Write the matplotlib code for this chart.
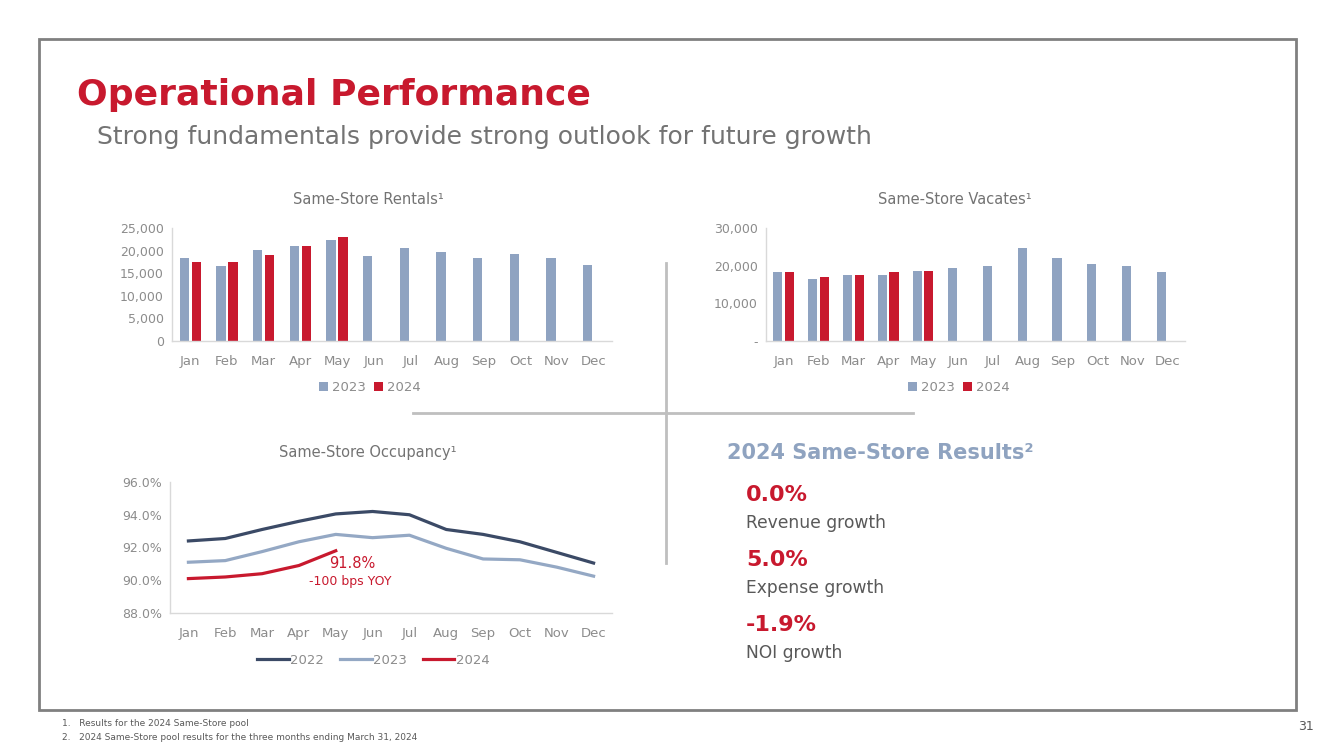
import matplotlib
matplotlib.use("Agg")
import matplotlib.pyplot as plt
from matplotlib.lines import Line2D
from matplotlib.patches import Rectangle
import numpy as np

months = ["Jan", "Feb", "Mar", "Apr", "May", "Jun", "Jul", "Aug", "Sep", "Oct", "Nov", "Dec"]

# Same-store rentals
rentals_2023 = [18400, 16700, 20200, 20950, 22300, 18900, 20500, 19800, 18300, 19200, 18300, 16900]
rentals_2024 = [17400, 17400, 19000, 21100, 22900]

# Same-store vacates
vacates_2023 = [18200, 16400, 17650, 17500, 18500, 19500, 20000, 24800, 22000, 20400, 19800, 18300]
vacates_2024 = [18200, 17100, 17650, 18300, 18500]

# Same-store occupancy (%)
occ_2022 = [92.4, 92.55, 93.1, 93.6, 94.05, 94.2, 94.0, 93.1, 92.8, 92.35, 91.7, 91.05]
occ_2023 = [91.1, 91.2, 91.75, 92.35, 92.8, 92.6, 92.75, 91.95, 91.3, 91.25, 90.8, 90.25]
occ_2024 = [90.1, 90.2, 90.4, 90.9, 91.8]

results_values = ["0.0%", "5.0%", "-1.9%"]
results_labels = ["Revenue growth", "Expense growth", "NOI growth"]

RED = "#C8192E"
BLUEGRAY = "#8FA3C1"
NAVY = "#3B4A66"
TICK = "#8C8C8C"
SPINE = "#D9D9D9"

W, H = 1333, 749
fig = plt.figure(figsize=(W / 100, H / 100), dpi=100)


def box(x0, y0, x1, y1):
    """ pixel box (top-left origin) to figure fraction """
    return [x0 / W, 1 - y1 / H, (x1 - x0) / W, (y1 - y0) / H]


def fx(x):
    return x / W


def fy(y):
    return 1 - y / H


def style_axes(ax):
    for s in ["top", "right"]:
        ax.spines[s].set_visible(False)
    for s in ["left", "bottom"]:
        ax.spines[s].set_color(SPINE)
        ax.spines[s].set_linewidth(1.0)
    ax.tick_params(length=0, colors=TICK, labelsize=9, pad=6)
    ax.set_xticks(range(12))
    ax.set_xticklabels(months)
    ax.tick_params(axis="x", pad=10, labelsize=9.5)
    ax.set_xlim(-0.5, 11.5)


""" Frame """
fig.add_artist(Rectangle((fx(39), fy(710)), fx(1296) - fx(39), fy(39) - fy(710),
                         fill=False, edgecolor="#808080", linewidth=2, transform=fig.transFigure))

""" Dividers """
fig.add_artist(Line2D([fx(666), fx(666)], [fy(263), fy(563)], color="#BFBFBF", linewidth=2))
fig.add_artist(Line2D([fx(413), fx(913)], [fy(413), fy(413)], color="#BFBFBF", linewidth=2))

""" Header """
fig.text(fx(77), fy(95), "Operational Performance", color=RED, fontsize=26,
         fontweight="bold", va="center", ha="left")
fig.text(fx(97), fy(137), "Strong fundamentals provide strong outlook for future growth",
         color="#737373", fontsize=18, va="center", ha="left")

x = np.arange(12)
bw = 0.26
off = 0.165

""" Rentals """
ax1 = fig.add_axes(box(172, 228, 612, 341))
ax1.bar(x - off, rentals_2023, width=bw, color=BLUEGRAY, label="2023")
ax1.bar(x[:len(rentals_2024)] + off, rentals_2024, width=bw, color=RED, label="2024")
ax1.set_ylim(0, 25000)
ax1.set_yticks(range(0, 25001, 5000))
ax1.set_yticklabels([f"{v:,}" for v in range(0, 25001, 5000)])
style_axes(ax1)
fig.text(fx(368), fy(200), "Same-Store Rentals¹", color="#737373", fontsize=10.5,
         ha="center", va="center")
ax1.legend(loc="center", bbox_to_anchor=(0.45, -0.41), ncol=2, frameon=False,
           fontsize=9.5, labelcolor=TICK, handlelength=0.7, handleheight=0.7,
           handletextpad=0.3, columnspacing=0.6)

""" Vacates """
ax2 = fig.add_axes(box(766, 228, 1185, 341))
ax2.bar(x - off, vacates_2023, width=bw, color=BLUEGRAY, label="2023")
ax2.bar(x[:len(vacates_2024)] + off, vacates_2024, width=bw, color=RED, label="2024")
ax2.set_ylim(0, 30000)
ax2.set_yticks(range(0, 30001, 10000))
ax2.set_yticklabels(["-"] + [f"{v:,}" for v in range(10000, 30001, 10000)])
style_axes(ax2)
fig.text(fx(955), fy(200), "Same-Store Vacates¹", color="#737373", fontsize=10.5,
         ha="center", va="center")
ax2.legend(loc="center", bbox_to_anchor=(0.46, -0.41), ncol=2, frameon=False,
           fontsize=9.5, labelcolor=TICK, handlelength=0.7, handleheight=0.7,
           handletextpad=0.3, columnspacing=0.6)

""" Occupancy """
ax3 = fig.add_axes(box(170, 482, 612, 613))
ax3.plot(x, occ_2022, color=NAVY, linewidth=2.3, label="2022")
ax3.plot(x, occ_2023, color="#94A8C4", linewidth=2.3, label="2023")
ax3.plot(x[:len(occ_2024)], occ_2024, color=RED, linewidth=2.3, label="2024")
ax3.set_ylim(88, 96)
ax3.set_yticks([88, 90, 92, 94, 96])
ax3.set_yticklabels([f"{v:.1f}%" for v in [88, 90, 92, 94, 96]])
style_axes(ax3)
fig.text(fx(368), fy(453), "Same-Store Occupancy¹", color="#737373", fontsize=10.5,
         ha="center", va="center")
ax3.text(4.45, occ_2024[-1] - 0.75, f"{occ_2024[-1]:.1f}%", color=RED, fontsize=10.5,
         ha="center", va="center")
ax3.text(4.4, occ_2024[-1] - 1.85, "-100 bps YOY", color=RED, fontsize=9,
         ha="center", va="center")
ax3.legend(loc="center", bbox_to_anchor=(0.46, -0.36), ncol=3, frameon=False,
           fontsize=9.5, labelcolor=TICK, handlelength=2.4, handletextpad=0.1,
           columnspacing=1.2)

""" Same-store results """
fig.text(fx(727), fy(453), "2024 Same-Store Results²", color="#8FA3C0", fontsize=15,
         fontweight="bold", ha="left", va="center")
for i, (v, lab) in enumerate(zip(results_values, results_labels)):
    y0 = 495 + i * 65
    fig.text(fx(746), fy(y0), v, color=RED, fontsize=16, fontweight="bold",
             ha="left", va="center")
    fig.text(fx(746), fy(y0 + 28), lab, color="#595959", fontsize=12.3,
             ha="left", va="center")

""" Footnotes """
fig.text(fx(62), fy(724), "1.   Results for the 2024 Same-Store pool", color="#595959",
         fontsize=6.5, ha="left", va="center")
fig.text(fx(62), fy(737), "2.   2024 Same-Store pool results for the three months ending March 31, 2024",
         color="#595959", fontsize=6.5, ha="left", va="center")
fig.text(fx(1306), fy(727), "31", color="#595959", fontsize=9, ha="center", va="center")

fig.savefig("out.png", dpi=100, facecolor="white")
